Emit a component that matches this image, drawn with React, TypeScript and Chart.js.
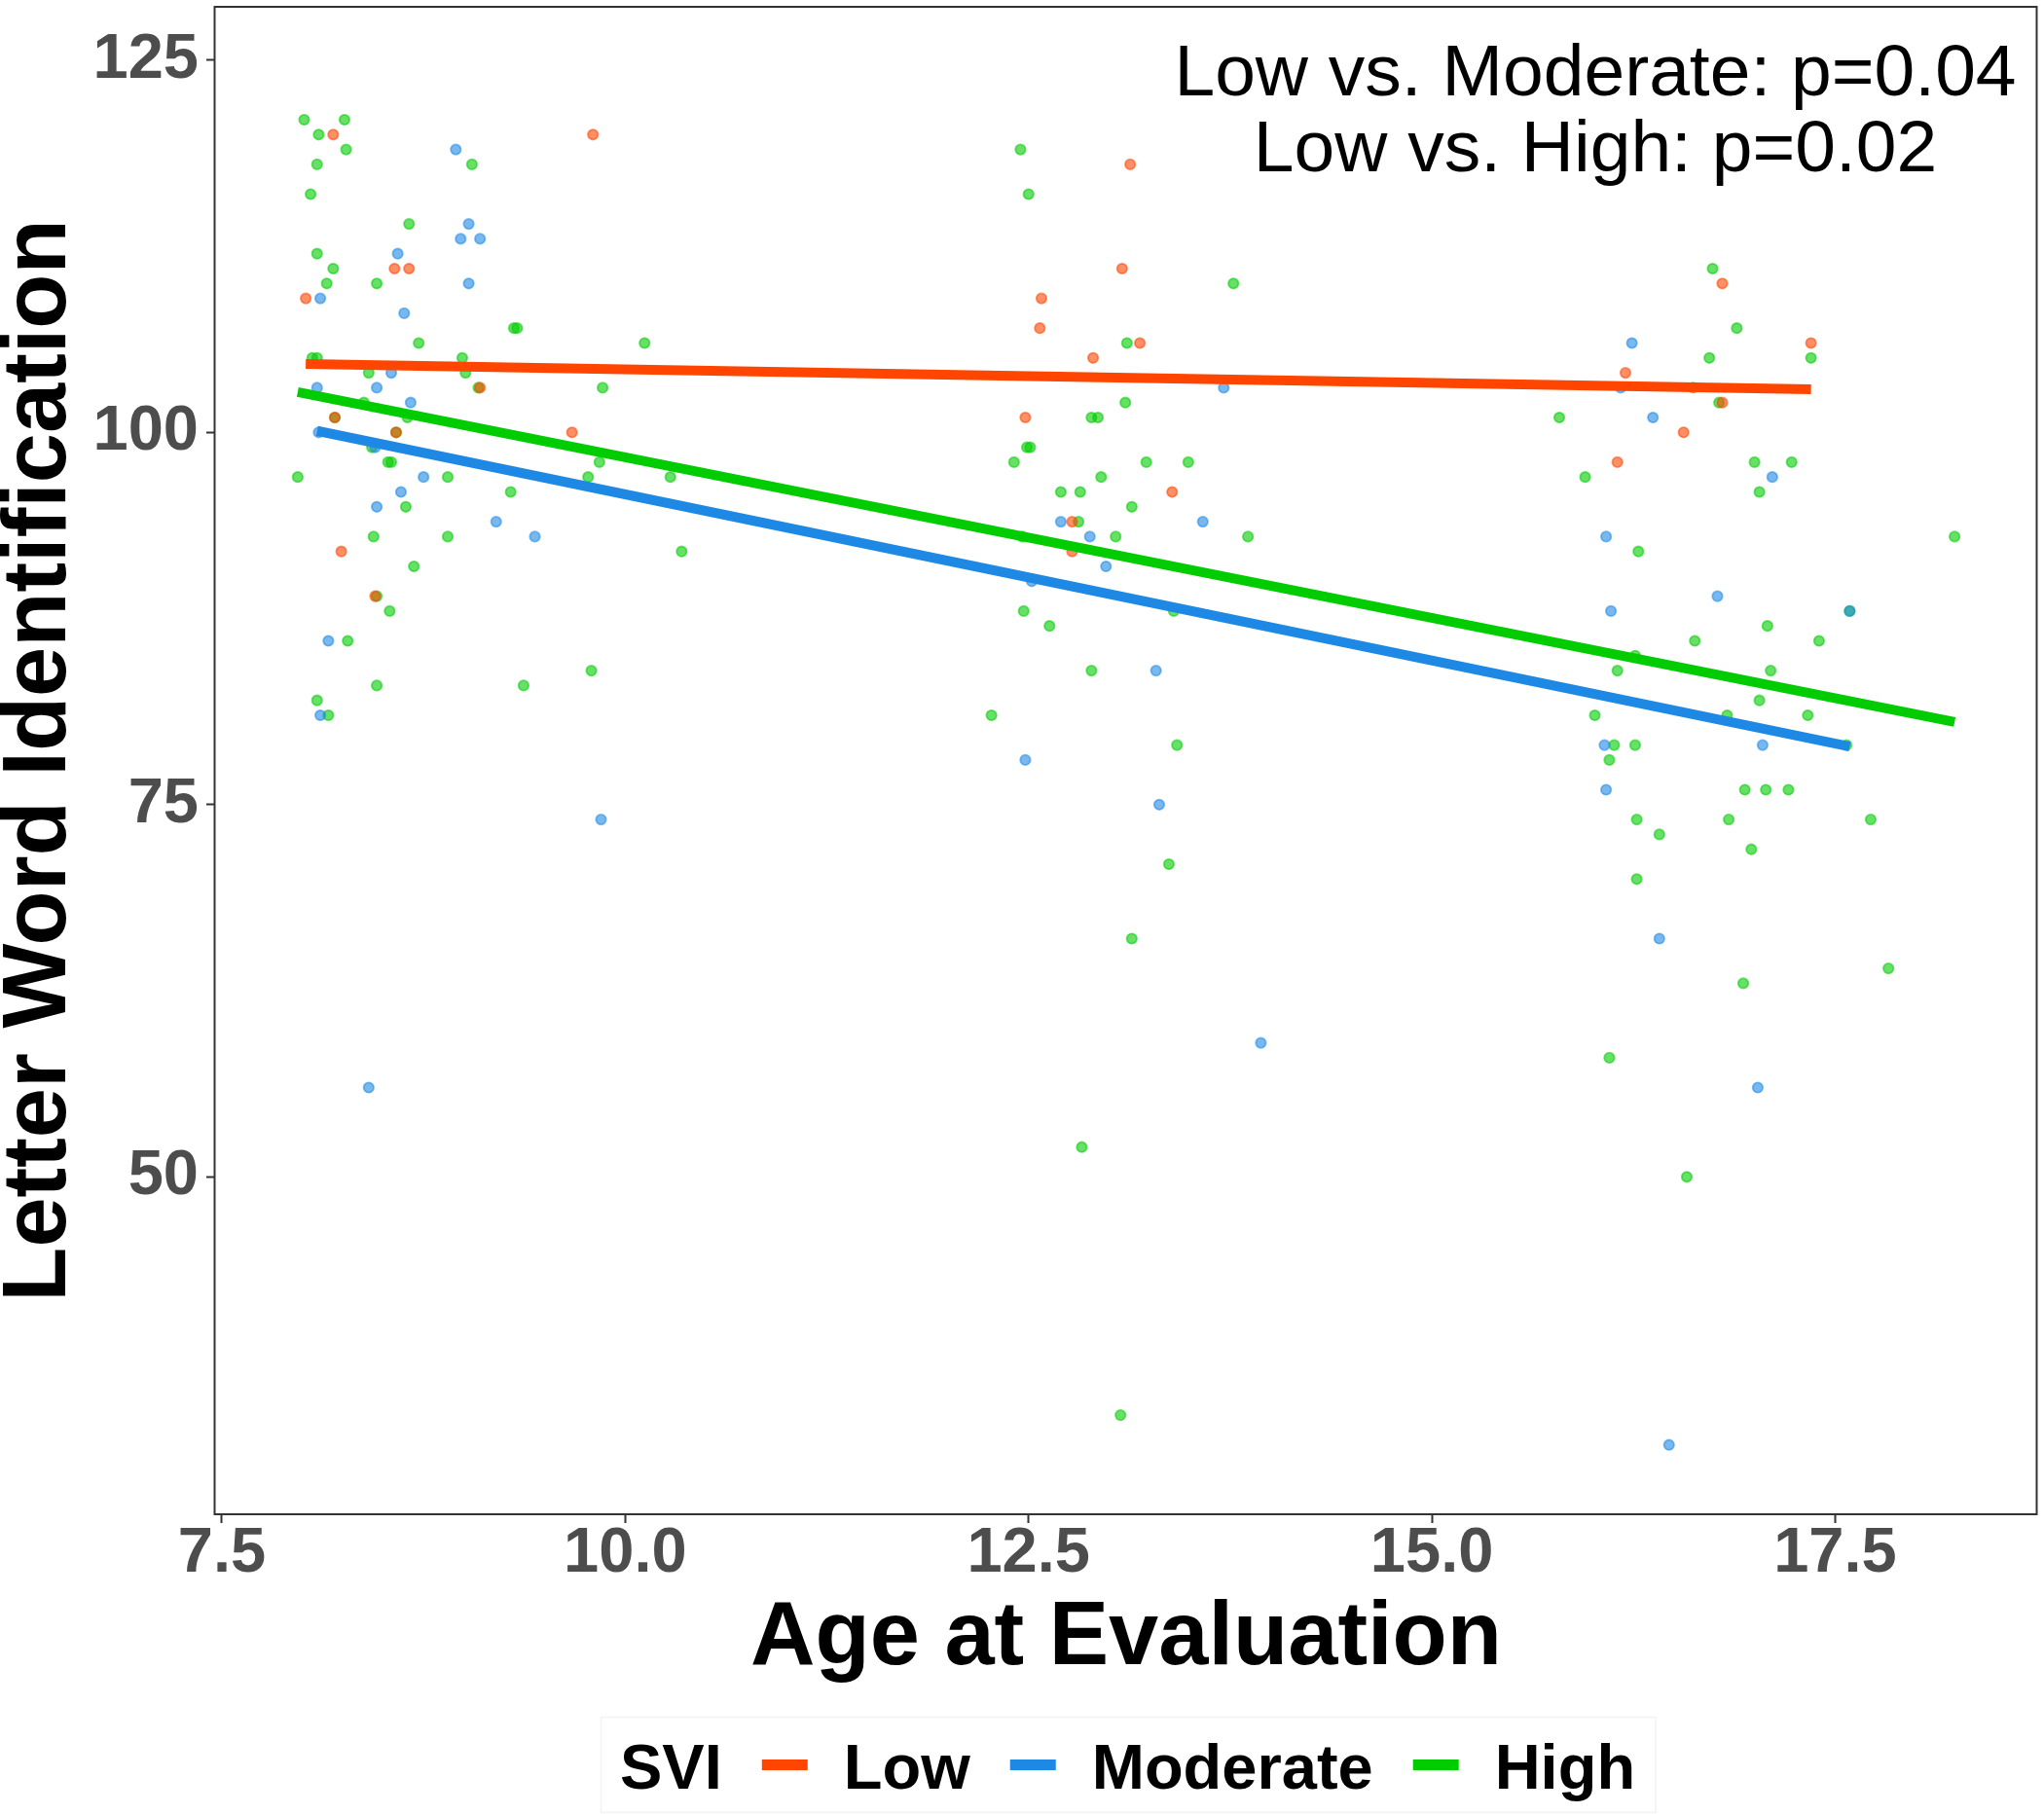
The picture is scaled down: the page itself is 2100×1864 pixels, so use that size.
import React, { useEffect, useRef } from "react";
import { Chart, registerables } from "chart.js";

Chart.register(...registerables);

// ---------- data ----------
const lowX = [8.19, 9.80, 8.57, 8.66, 8.02, 9.10, 8.20, 8.58, 9.67, 8.45, 8.24,
  13.13, 13.08, 12.58, 12.57, 13.19, 12.90, 12.48, 13.39, 12.77, 12.77,
  16.80, 17.35, 16.20, 16.80, 16.56, 16.15];
const lowY = [120, 120, 111, 111, 109, 103, 101, 100, 100, 89, 92,
  118, 111, 109, 107, 106, 105, 101, 96, 94, 92,
  110, 106, 104, 102, 100, 98];

const modX = [8.95, 9.03, 8.98, 9.10, 8.59, 9.03, 8.11, 8.63, 8.55, 8.09, 8.46, 8.67, 8.10, 8.45, 8.75, 8.61, 8.46, 9.20, 9.44, 8.16, 8.11, 9.85, 8.41,
  13.71, 12.70, 13.58, 12.88, 12.98, 12.52, 13.29, 12.48, 13.31, 13.94,
  16.24, 16.17, 16.37, 17.11, 16.08, 16.77, 16.11, 17.59, 16.07, 17.05, 16.08, 16.41, 17.02, 16.47];
const modY = [119, 114, 113, 113, 112, 110, 109, 108, 104, 103, 103, 102, 100, 99, 97, 96, 95, 94, 93, 86, 81, 74, 56,
  103, 94, 94, 93, 91, 90, 84, 78, 75, 59,
  106, 103, 101, 97, 93, 89, 88, 88, 79, 79, 76, 66, 56, 32];

const highX = [8.01, 8.26, 8.10, 8.27, 8.09, 9.05, 8.05, 8.66, 8.09, 8.19, 8.15, 8.46, 9.31, 9.33, 8.72, 10.12, 8.06, 8.09, 8.99, 8.41, 9.01, 9.09, 9.86, 8.38, 8.20, 8.65, 8.58, 8.43, 8.53, 8.55, 9.84, 7.97, 8.90, 9.77, 10.28, 9.29, 8.64, 8.44, 8.90, 10.35, 8.69, 8.46, 8.54, 8.28, 9.79, 8.46, 9.37, 8.09, 8.16,
  12.45, 12.50, 13.77, 13.11, 13.10, 12.89, 12.93, 12.49, 12.51, 12.41, 13.23, 13.49, 12.95, 12.70, 12.82, 13.14, 12.81, 13.04, 13.86, 12.46, 12.47, 13.40, 12.63, 12.89, 12.27, 13.42, 13.37, 13.14, 12.83, 13.07,
  16.74, 16.89, 16.72, 17.35, 16.62, 16.78, 15.79, 17.00, 17.23, 15.95, 17.03, 18.24, 16.28, 17.59, 17.08, 16.63, 17.40, 16.26, 16.15, 17.10, 17.03, 16.01, 16.83, 17.33, 16.13, 16.26, 17.57, 16.10, 16.94, 17.07, 17.21, 16.27, 16.84, 17.72, 16.41, 16.98, 16.27, 17.83, 16.93, 16.10, 16.58];
const highY = [121, 121, 120, 119, 118, 118, 116, 114, 112, 111, 110, 110, 107, 107, 106, 106, 105, 105, 105, 104, 104, 103, 103, 102, 101, 101, 100, 99, 98, 98, 98, 97, 97, 97, 97, 96, 95, 93, 93, 92, 91, 89, 88, 86, 84, 83, 83, 82, 81,
  119, 116, 110, 106, 102, 101, 101, 99, 99, 98, 98, 98, 97, 96, 96, 95, 94, 93, 93, 93, 88, 88, 87, 84, 81, 79, 71, 66, 52, 34,
  111, 107, 105, 105, 103, 102, 101, 98, 98, 97, 96, 93, 92, 88, 87, 86, 86, 85, 84, 84, 82, 81, 81, 81, 79, 79, 79, 78, 76, 76, 76, 74, 74, 74, 73, 72, 70, 64, 63, 58, 50];

// fitted regression line end points
const lowFitX = [8.02, 17.35];
const lowFitY = [104.6, 102.9];
const modFitX = [8.09, 17.59];
const modFitY = [100.1, 78.9];
const highFitX = [7.97, 18.24];
const highFitY = [102.7, 80.55];

const xTicks = [7.5, 10.0, 12.5, 15.0, 17.5];
const yTicks = [50, 75, 100, 125];

const groupNames = ["Low", "Moderate", "High"];
const legendTitle = "SVI";
const xTitle = "Age at Evaluation";
const yTitle = "Letter Word Identification";
const annotationLines = ["Low vs. Moderate: p=0.04", "Low vs. High: p=0.02"];

const COLORS = ["#FF4500", "#1E88E5", "#00CC00"];
const POINT_FILL = ["rgba(255,69,0,0.6)", "rgba(30,136,229,0.6)", "rgba(0,204,0,0.6)"];
const POINT_EDGE = ["rgba(255,69,0,0.55)", "rgba(30,136,229,0.55)", "rgba(0,204,0,0.55)"];

const FONT = "'Liberation Sans', Arial, Helvetica, sans-serif";

const zip = (xs: number[], ys: number[]) => xs.map((x, i) => ({ x, y: ys[i] }));

const overlayPlugin = {
  id: "overlay",
  afterDraw(chart: any) {
    const { ctx, chartArea } = chart;
    const ca = chartArea;
    ctx.save();
    // panel border
    ctx.strokeStyle = "#333333";
    ctx.lineWidth = 2;
    ctx.strokeRect(ca.left - 0.5, ca.top, ca.right - ca.left, ca.bottom - ca.top);

    // x title
    ctx.fillStyle = "#000";
    ctx.font = `bold 92px ${FONT}`;
    ctx.textAlign = "center";
    ctx.textBaseline = "alphabetic";
    ctx.fillText(xTitle, (ca.left + ca.right) / 2, 1710);

    // y title
    ctx.save();
    ctx.translate(67, (ca.top + ca.bottom) / 2);
    ctx.rotate(-Math.PI / 2);
    ctx.fillText(yTitle, 0, 0);
    ctx.restore();

    // annotation
    ctx.font = `75px ${FONT}`;
    ctx.textAlign = "center";
    ctx.fillText(annotationLines[0], 1639, 98);
    ctx.fillText(annotationLines[1], 1639, 176);

    // legend
    ctx.strokeStyle = "#F2F2F2";
    ctx.lineWidth = 1.5;
    ctx.strokeRect(617.5, 1764.5, 1701 - 617.5, 1862.5 - 1764.5);
    ctx.font = `bold 65px ${FONT}`;
    ctx.textAlign = "left";
    let x = 637;
    const base = 1838;
    ctx.fillStyle = "#000";
    ctx.fillText(legendTitle, x, base);
    x += ctx.measureText(legendTitle).width + 41;
    groupNames.forEach((name, i) => {
      ctx.fillStyle = COLORS[i];
      ctx.fillRect(x, 1808, 47, 11);
      x += 47 + 37;
      ctx.fillStyle = "#000";
      ctx.fillText(name, x, base);
      x += ctx.measureText(name).width + 41;
    });
    ctx.restore();
  },
};

export default function App() {
  const ref = useRef<HTMLCanvasElement | null>(null);
  useEffect(() => {
    const canvas = ref.current;
    if (!canvas) return;
    const lineDs = (xs: number[], ys: number[], i: number) => ({
      type: "line" as const,
      label: groupNames[i] + " fit",
      data: zip(xs, ys),
      borderColor: COLORS[i],
      borderWidth: 10,
      pointRadius: 0,
      fill: false,
      showLine: true,
      borderCapStyle: "butt" as const,
    });
    const pointDs = (xs: number[], ys: number[], i: number) => ({
      type: "scatter" as const,
      label: groupNames[i],
      data: zip(xs, ys),
      backgroundColor: POINT_FILL[i],
      borderColor: POINT_EDGE[i],
      borderWidth: 1.8,
      pointRadius: 5.2,
      pointHoverRadius: 5.2,
    });
    const tickFont = { family: FONT, size: 65, weight: "bold" as const, lineHeight: 1 };
    const noPadX = (s: any) => { s.height = 308; s.paddingLeft = 0; s.paddingRight = 0; };
    const noPadY = (s: any) => { s.width = 221; s.paddingTop = 0; s.paddingBottom = 0; };
    const chart = new Chart(canvas, {
      type: "scatter",
      data: {
        datasets: [
          lineDs(highFitX, highFitY, 2),
          lineDs(modFitX, modFitY, 1),
          lineDs(lowFitX, lowFitY, 0),
          pointDs(lowX, lowY, 0),
          pointDs(modX, modY, 1),
          pointDs(highX, highY, 2),
        ] as any,
      },
      options: {
        animation: false,
        responsive: false,
        maintainAspectRatio: false,
        devicePixelRatio: 1,
        layout: { padding: { top: 1, right: 2, left: 0, bottom: 0 } },
        plugins: { legend: { display: false }, tooltip: { enabled: false } },
        events: [],
        scales: {
          x: {
            type: "linear",
            min: 7.458,
            max: 18.752,
            afterFit: noPadX,
            afterBuildTicks: (s: any) => { s.ticks = xTicks.map((v) => ({ value: v })); },
            ticks: {
              callback: (v: any) => Number(v).toFixed(1),
              font: tickFont,
              color: "#4D4D4D",
              padding: 0,
              maxRotation: 0,
              autoSkip: false,
            },
            grid: { drawOnChartArea: false, drawTicks: true, tickLength: 9, tickColor: "#333333", tickWidth: 2 },
            border: { display: false },
          },
          y: {
            type: "linear",
            min: 27.34,
            max: 128.58,
            afterFit: noPadY,
            afterBuildTicks: (s: any) => { s.ticks = yTicks.map((v) => ({ value: v })); },
            ticks: {
              callback: (v: any) => String(v),
              font: tickFont,
              color: "#4D4D4D",
              padding: 8,
              autoSkip: false,
            },
            grid: { drawOnChartArea: false, drawTicks: true, tickLength: 9, tickColor: "#333333", tickWidth: 2 },
            border: { display: false },
          },
        },
      } as any,
      plugins: [overlayPlugin],
    });
    return () => chart.destroy();
  }, []);
  return (
    <div style={{ position: "absolute", left: 0, top: 0, width: 2100, height: 1864, background: "#fff" }}>
      <canvas ref={ref} width={2100} height={1864} style={{ display: "block", width: 2100, height: 1864 }} />
    </div>
  );
}
